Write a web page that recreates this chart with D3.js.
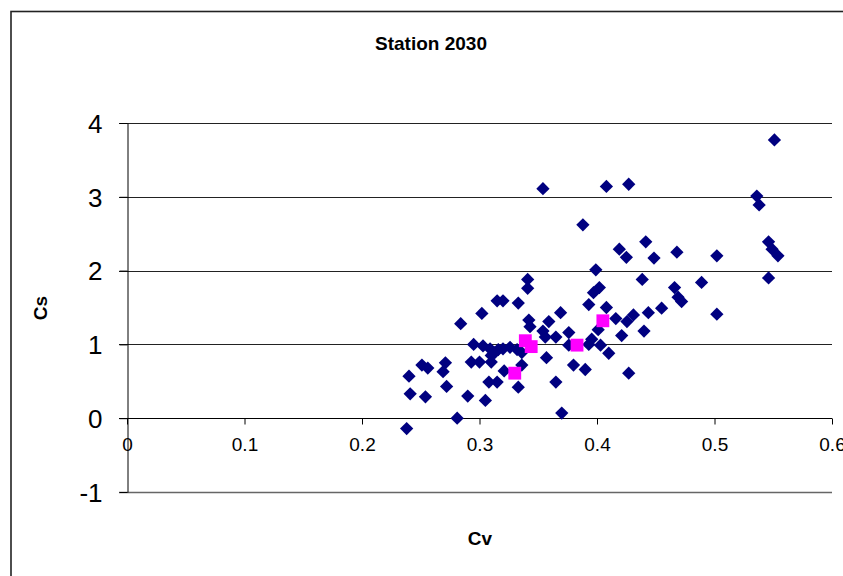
<!DOCTYPE html>
<html>
<head>
<meta charset="utf-8">
<script src="https://cdn.jsdelivr.net/npm/d3@7"></script>
<style>
  html, body { margin: 0; padding: 0; background: #fff; }
  svg { display: block; }
  text { font-family: "Liberation Sans", Arial, sans-serif; fill: #000; }
</style>
</head>
<body>
<svg id="chart" width="843" height="576"></svg>
<script>
// Series 1 (navy diamonds)
const cvAll = [
  0.238, 0.240, 0.241, 0.251, 0.256, 0.254, 0.271, 0.269, 0.272, 0.281,
  0.284, 0.290, 0.293, 0.300, 0.295, 0.302, 0.305, 0.308, 0.315, 0.310,
  0.315, 0.320, 0.333, 0.341, 0.341, 0.342, 0.343, 0.354, 0.359, 0.354,
  0.356, 0.365, 0.369, 0.376, 0.376, 0.357, 0.336, 0.321, 0.333, 0.365,
  0.370, 0.380, 0.390, 0.393, 0.3955, 0.403, 0.410, 0.401, 0.393, 0.397,
  0.408, 0.388, 0.399, 0.402, 0.408, 0.427, 0.416, 0.4255, 0.421, 0.427,
  0.419, 0.425, 0.4415, 0.4485, 0.4385, 0.4437, 0.440, 0.455, 0.468, 0.466,
  0.469, 0.472, 0.489, 0.502, 0.502, 0.536, 0.538, 0.546, 0.549, 0.554,
  0.546, 0.551, 0.431, 0.303, 0.309, 0.316, 0.320, 0.326, 0.332, 0.336,
  0.313, 0.310
];
const csAll = [
  -0.14, 0.57, 0.33, 0.72, 0.68, 0.29, 0.75, 0.63, 0.43, 0.00,
  1.28, 0.30, 0.76, 0.76, 1.00, 1.42, 0.24, 0.49, 0.49, 0.76,
  1.59, 1.59, 1.56, 1.88, 1.76, 1.33, 1.24, 3.11, 1.31, 1.18,
  1.10, 1.10, 1.43, 1.16, 0.99, 0.82, 0.72, 0.64, 0.42, 0.49,
  0.07, 0.72, 0.66, 1.00, 1.07, 0.99, 0.88, 1.20, 1.54, 1.70,
  1.50, 2.62, 2.01, 1.77, 3.14, 3.17, 1.35, 1.31, 1.12, 0.61,
  2.29, 2.18, 2.39, 2.17, 1.88, 1.43, 1.18, 1.49, 2.25, 1.77,
  1.64, 1.58, 1.84, 2.20, 1.41, 3.01, 2.89, 2.39, 2.29, 2.20,
  1.90, 3.77, 1.40, 0.98, 0.94, 0.93, 0.94, 0.96, 0.93, 0.89,
  0.89, 0.85
];
// Series 2 (magenta squares)
const cvSel = [0.339, 0.344, 0.330, 0.383, 0.405];
const csSel = [1.05, 0.97, 0.61, 0.99, 1.32];

const xTicks = [0, 0.1, 0.2, 0.3, 0.4, 0.5, 0.6];
const xTickLabels = ["0", "0.1", "0.2", "0.3", "0.4", "0.5", "0.6"];
const yTicks = [-1, 0, 1, 2, 3, 4];
const yTickLabels = ["-1", "0", "1", "2", "3", "4"];

const titleText = "Station 2030";
const xLabel = "Cv";
const yLabel = "Cs";

const svg = d3.select("#chart");
const x = d3.scaleLinear().domain([0, 0.6]).range([127, 832]);
const y = d3.scaleLinear().domain([-1, 4]).range([492, 123]);

// outer chart border
svg.append("rect").attr("x", 11).attr("y", 11.5).attr("width", 900).attr("height", 700)
  .attr("fill", "none").attr("stroke", "#222").attr("stroke-width", 1.6);

// horizontal gridlines (excluding 0, which is the axis)
svg.append("g").selectAll("line").data(yTicks.filter(d => d !== 0)).join("line")
  .attr("x1", 119).attr("x2", 832)
  .attr("y1", d => Math.round(y(d)) + 0.5).attr("y2", d => Math.round(y(d)) + 0.5)
  .attr("stroke", d => d === -1 ? "#666" : "#222").attr("stroke-width", d => d === -1 ? 1.6 : 1);

// y axis
const yAxis = svg.append("g").attr("transform", `translate(${x(0) + 0.5},0)`)
  .call(d3.axisLeft(y).tickValues(yTicks).tickSize(8).tickSizeOuter(0)
    .tickFormat((d, i) => yTickLabels[i]));
yAxis.select(".domain").attr("stroke", "#000");
yAxis.selectAll(".tick line").attr("stroke", "#000");
yAxis.selectAll(".tick text").attr("font-size", 26).attr("x", -25).attr("dy", "0.36em")
  .style("font-family", "'Liberation Sans', Arial, sans-serif");

// x axis at y=0
const xAxis = svg.append("g").attr("transform", `translate(0,${Math.round(y(0)) + 0.5})`)
  .call(d3.axisBottom(x).tickValues(xTicks).tickSize(6).tickSizeOuter(0)
    .tickFormat((d, i) => xTickLabels[i]));
xAxis.select(".domain").attr("stroke", "#000").attr("d", `M119,0H832`);
xAxis.selectAll(".tick line").attr("stroke", "#000");
xAxis.selectAll(".tick text").attr("font-size", 19).attr("y", 19).attr("dy", "0.71em")
  .style("font-family", "'Liberation Sans', Arial, sans-serif");

// diamonds
const diamond = d3.symbol().type(d3.symbolSquare).size(88);
svg.append("g").selectAll("path").data(cvAll.map((v, i) => [v, csAll[i]])).join("path")
  .attr("d", diamond)
  .attr("transform", d => `translate(${x(d[0])},${y(d[1])}) rotate(45)`)
  .attr("fill", "#000080");

// magenta squares
const square = d3.symbol().type(d3.symbolSquare).size(165);
svg.append("g").selectAll("path").data(cvSel.map((v, i) => [v, csSel[i]])).join("path")
  .attr("d", square)
  .attr("transform", d => `translate(${x(d[0])},${y(d[1])})`)
  .attr("fill", "#FF00FF");

// title and axis labels
svg.append("text").attr("x", 431).attr("y", 50).attr("text-anchor", "middle")
  .attr("font-size", 19).attr("font-weight", "bold").text(titleText);
svg.append("text").attr("x", 480).attr("y", 545).attr("text-anchor", "middle")
  .attr("font-size", 19).attr("font-weight", "bold").text(xLabel);
svg.append("text").attr("transform", "translate(47,308) rotate(-90)").attr("text-anchor", "middle")
  .attr("font-size", 19).attr("font-weight", "bold").text(yLabel);
</script>
</body>
</html>
